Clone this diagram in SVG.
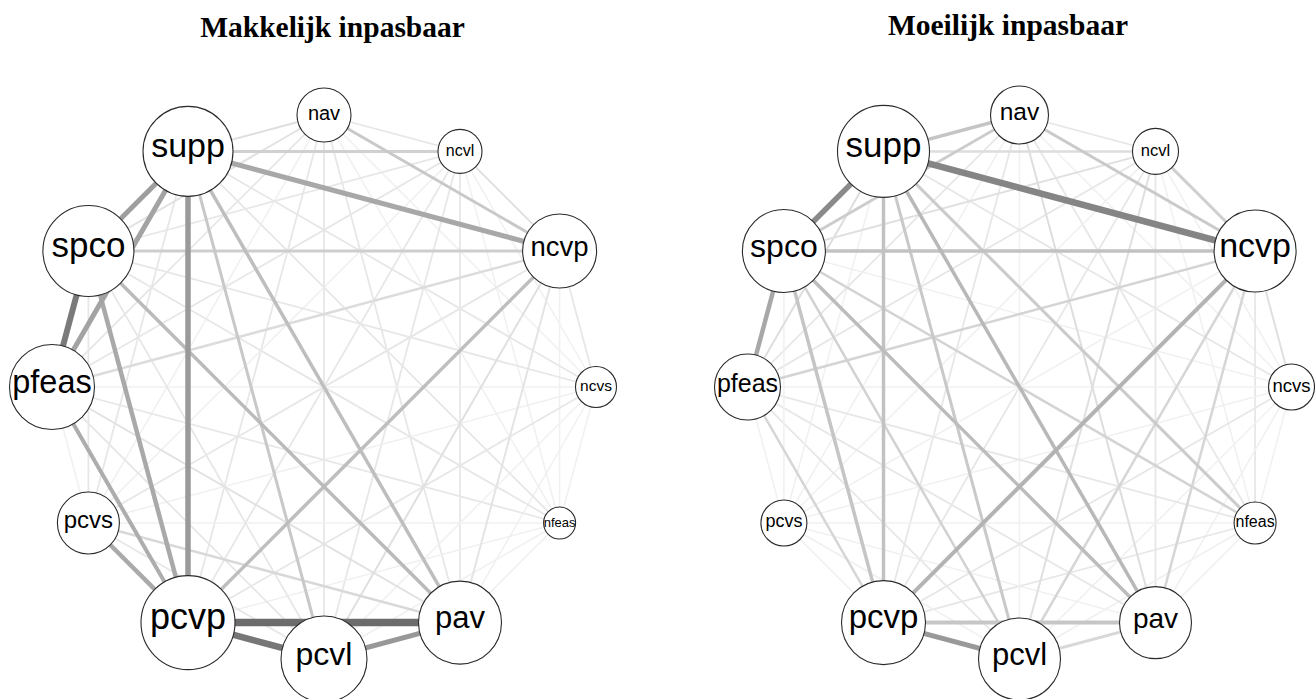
<svg xmlns="http://www.w3.org/2000/svg" width="1315" height="699" viewBox="0 0 1315 699">
<style>
.title{font-family:"Liberation Serif","Times New Roman",serif;font-weight:bold;font-size:29.5px;text-anchor:middle;fill:#000}
.n{fill:#fff;stroke:#2a2a2a;stroke-width:1.1}
.lb{font-family:"Liberation Sans",Arial,sans-serif;text-anchor:middle;fill:#000}
.f{stroke:#f0f0f0;stroke-width:1.5}
.m{stroke:#e7e7e7;stroke-width:1.8}
line{fill:none}
</style>
<rect width="1315" height="699" fill="#fff"/>
<text class="title" x="332.5" y="36.7">Makkelijk inpasbaar</text>
<text class="title" x="1008" y="34.7">Moeilijk inpasbaar</text>

<g id="connectors-left">
<line class="m" x1="324" y1="115" x2="460" y2="151.4"/>
<line class="f" x1="324" y1="115" x2="596" y2="387"/>
<line class="f" x1="324" y1="115" x2="559.6" y2="523"/>
<line class="m" x1="324" y1="115" x2="460" y2="622.6"/>
<line class="m" x1="324" y1="115" x2="324" y2="659"/>
<line class="m" x1="324" y1="115" x2="188" y2="622.6"/>
<line class="f" x1="324" y1="115" x2="88.4" y2="523"/>
<line class="m" x1="324" y1="115" x2="52" y2="387"/>
<line class="f" x1="460" y1="151.4" x2="596" y2="387"/>
<line class="f" x1="460" y1="151.4" x2="559.6" y2="523"/>
<line class="m" x1="460" y1="151.4" x2="460" y2="622.6"/>
<line class="m" x1="460" y1="151.4" x2="324" y2="659"/>
<line class="m" x1="460" y1="151.4" x2="188" y2="622.6"/>
<line class="f" x1="460" y1="151.4" x2="88.4" y2="523"/>
<line class="m" x1="460" y1="151.4" x2="52" y2="387"/>
<line class="m" x1="460" y1="151.4" x2="88.4" y2="251"/>
<line class="m" x1="559.6" y1="251" x2="596" y2="387"/>
<line class="f" x1="559.6" y1="251" x2="559.6" y2="523"/>
<line class="m" x1="559.6" y1="251" x2="88.4" y2="523"/>
<line class="f" x1="596" y1="387" x2="559.6" y2="523"/>
<line class="f" x1="596" y1="387" x2="460" y2="622.6"/>
<line class="f" x1="596" y1="387" x2="324" y2="659"/>
<line class="m" x1="596" y1="387" x2="188" y2="622.6"/>
<line class="f" x1="596" y1="387" x2="88.4" y2="523"/>
<line class="f" x1="596" y1="387" x2="52" y2="387"/>
<line class="m" x1="596" y1="387" x2="88.4" y2="251"/>
<line class="m" x1="596" y1="387" x2="188" y2="151.4"/>
<line class="f" x1="559.6" y1="523" x2="460" y2="622.6"/>
<line class="f" x1="559.6" y1="523" x2="324" y2="659"/>
<line class="f" x1="559.6" y1="523" x2="188" y2="622.6"/>
<line class="f" x1="559.6" y1="523" x2="88.4" y2="523"/>
<line class="m" x1="559.6" y1="523" x2="52" y2="387"/>
<line class="m" x1="559.6" y1="523" x2="88.4" y2="251"/>
<line class="m" x1="559.6" y1="523" x2="188" y2="151.4"/>
<line class="m" x1="324" y1="659" x2="88.4" y2="523"/>
<line class="m" x1="324" y1="659" x2="52" y2="387"/>
<line class="m" x1="324" y1="659" x2="88.4" y2="251"/>
<line class="f" x1="88.4" y1="523" x2="52" y2="387"/>
<line class="m" x1="88.4" y1="523" x2="88.4" y2="251"/>
<line class="m" x1="88.4" y1="523" x2="188" y2="151.4"/>
<line x1="52" y1="387" x2="460" y2="622.6" stroke="#e2e2e2" stroke-width="2"/>
<line x1="559.6" y1="251" x2="460" y2="151.4" stroke="#e2e2e2" stroke-width="2"/>
<line x1="559.6" y1="251" x2="460" y2="622.6" stroke="#e4e4e4" stroke-width="2"/>
<line x1="88.4" y1="251" x2="324" y2="115" stroke="#e2e2e2" stroke-width="2"/>
<line x1="559.6" y1="251" x2="324" y2="659" stroke="#e0e0e0" stroke-width="2"/>
<line x1="188" y1="151.4" x2="324" y2="115" stroke="#dedede" stroke-width="2"/>
<line x1="88.4" y1="523" x2="460" y2="622.6" stroke="#d8d8d8" stroke-width="2.5"/>
<line x1="52" y1="387" x2="559.6" y2="251" stroke="#dcdcdc" stroke-width="2.5"/>
<line x1="188" y1="151.4" x2="460" y2="151.4" stroke="#d0d0d0" stroke-width="3"/>
<line x1="88.4" y1="251" x2="559.6" y2="251" stroke="#cecece" stroke-width="3"/>
<line x1="324" y1="115" x2="559.6" y2="251" stroke="#c8c8c8" stroke-width="3"/>
<line x1="188" y1="151.4" x2="324" y2="659" stroke="#c8c8c8" stroke-width="3"/>
<line x1="188" y1="622.6" x2="559.6" y2="251" stroke="#bebebe" stroke-width="3.5"/>
<line x1="188" y1="151.4" x2="460" y2="622.6" stroke="#bebebe" stroke-width="3.5"/>
<line x1="88.4" y1="251" x2="460" y2="622.6" stroke="#bababa" stroke-width="3.5"/>
<line x1="52" y1="387" x2="188" y2="622.6" stroke="#adadad" stroke-width="4"/>
<line x1="88.4" y1="523" x2="188" y2="622.6" stroke="#aaaaaa" stroke-width="4.5"/>
<line x1="88.4" y1="251" x2="188" y2="622.6" stroke="#a9a9a9" stroke-width="4.5"/>
<line x1="188" y1="151.4" x2="559.6" y2="251" stroke="#a8a8a8" stroke-width="5"/>
<line x1="188" y1="151.4" x2="52" y2="387" stroke="#a3a3a3" stroke-width="5"/>
<line x1="188" y1="151.4" x2="88.4" y2="251" stroke="#9e9e9e" stroke-width="5"/>
<line x1="188" y1="151.4" x2="188" y2="622.6" stroke="#9a9a9a" stroke-width="5.5"/>
<line x1="324" y1="659" x2="460" y2="622.6" stroke="#989898" stroke-width="5"/>
<line x1="88.4" y1="251" x2="52" y2="387" stroke="#7a7a7a" stroke-width="6"/>
<line x1="188" y1="622.6" x2="324" y2="659" stroke="#777777" stroke-width="6.5"/>
<line x1="188" y1="622.6" x2="460" y2="622.6" stroke="#6c6c6c" stroke-width="7.5"/>
</g>

<g id="connectors-right">
<line class="m" x1="1019.5" y1="115" x2="1155.5" y2="151.4"/>
<line class="f" x1="1019.5" y1="115" x2="1291.5" y2="387"/>
<line class="m" x1="1019.5" y1="115" x2="1255.1" y2="523"/>
<line class="f" x1="1019.5" y1="115" x2="1019.5" y2="659"/>
<line class="m" x1="1019.5" y1="115" x2="883.5" y2="622.6"/>
<line class="f" x1="1019.5" y1="115" x2="783.9" y2="523"/>
<line class="m" x1="1019.5" y1="115" x2="747.5" y2="387"/>
<line class="f" x1="1155.5" y1="151.4" x2="1291.5" y2="387"/>
<line class="f" x1="1155.5" y1="151.4" x2="1255.1" y2="523"/>
<line class="m" x1="1155.5" y1="151.4" x2="1155.5" y2="622.6"/>
<line class="m" x1="1155.5" y1="151.4" x2="883.5" y2="622.6"/>
<line class="f" x1="1155.5" y1="151.4" x2="783.9" y2="523"/>
<line class="m" x1="1155.5" y1="151.4" x2="747.5" y2="387"/>
<line class="m" x1="1255.1" y1="251" x2="1255.1" y2="523"/>
<line class="f" x1="1255.1" y1="251" x2="783.9" y2="523"/>
<line class="f" x1="1291.5" y1="387" x2="1255.1" y2="523"/>
<line class="f" x1="1291.5" y1="387" x2="1155.5" y2="622.6"/>
<line class="f" x1="1291.5" y1="387" x2="1019.5" y2="659"/>
<line class="m" x1="1291.5" y1="387" x2="883.5" y2="622.6"/>
<line class="f" x1="1291.5" y1="387" x2="783.9" y2="523"/>
<line class="f" x1="1291.5" y1="387" x2="747.5" y2="387"/>
<line class="f" x1="1291.5" y1="387" x2="783.9" y2="251"/>
<line class="m" x1="1291.5" y1="387" x2="883.5" y2="151.4"/>
<line class="f" x1="1255.1" y1="523" x2="1155.5" y2="622.6"/>
<line class="f" x1="1255.1" y1="523" x2="1019.5" y2="659"/>
<line class="m" x1="1255.1" y1="523" x2="883.5" y2="622.6"/>
<line class="f" x1="1255.1" y1="523" x2="783.9" y2="523"/>
<line class="m" x1="1255.1" y1="523" x2="747.5" y2="387"/>
<line class="f" x1="1155.5" y1="622.6" x2="783.9" y2="523"/>
<line class="m" x1="1155.5" y1="622.6" x2="747.5" y2="387"/>
<line class="f" x1="1019.5" y1="659" x2="783.9" y2="523"/>
<line class="m" x1="1019.5" y1="659" x2="747.5" y2="387"/>
<line class="f" x1="883.5" y1="622.6" x2="783.9" y2="523"/>
<line class="f" x1="783.9" y1="523" x2="747.5" y2="387"/>
<line class="f" x1="783.9" y1="523" x2="783.9" y2="251"/>
<line class="f" x1="783.9" y1="523" x2="883.5" y2="151.4"/>
<line x1="1255.1" y1="251" x2="1291.5" y2="387" stroke="#e0e0e0" stroke-width="2"/>
<line x1="883.5" y1="151.4" x2="747.5" y2="387" stroke="#dedede" stroke-width="2"/>
<line x1="1019.5" y1="659" x2="1155.5" y2="151.4" stroke="#e0e0e0" stroke-width="2"/>
<line x1="1019.5" y1="115" x2="1155.5" y2="622.6" stroke="#dedede" stroke-width="2"/>
<line x1="783.9" y1="251" x2="1155.5" y2="151.4" stroke="#e0e0e0" stroke-width="2"/>
<line x1="883.5" y1="151.4" x2="1155.5" y2="151.4" stroke="#dddddd" stroke-width="2.5"/>
<line x1="1019.5" y1="659" x2="1155.5" y2="622.6" stroke="#d8d8d8" stroke-width="3"/>
<line x1="1155.5" y1="622.6" x2="1255.1" y2="251" stroke="#d6d6d6" stroke-width="2.5"/>
<line x1="1019.5" y1="659" x2="1255.1" y2="251" stroke="#d6d6d6" stroke-width="2.5"/>
<line x1="747.5" y1="387" x2="883.5" y2="622.6" stroke="#d6d6d6" stroke-width="2.5"/>
<line x1="747.5" y1="387" x2="1255.1" y2="251" stroke="#d4d4d4" stroke-width="2.5"/>
<line x1="783.9" y1="251" x2="1255.1" y2="523" stroke="#d3d3d3" stroke-width="2.5"/>
<line x1="783.9" y1="251" x2="1019.5" y2="659" stroke="#d2d2d2" stroke-width="2.5"/>
<line x1="1155.5" y1="151.4" x2="1255.1" y2="251" stroke="#cfcfcf" stroke-width="3"/>
<line x1="883.5" y1="151.4" x2="1255.1" y2="523" stroke="#cbcbcb" stroke-width="3"/>
<line x1="783.9" y1="251" x2="1019.5" y2="115" stroke="#cccccc" stroke-width="3"/>
<line x1="1019.5" y1="115" x2="1255.1" y2="251" stroke="#cacaca" stroke-width="3"/>
<line x1="883.5" y1="151.4" x2="1019.5" y2="659" stroke="#c9c9c9" stroke-width="3"/>
<line x1="883.5" y1="151.4" x2="1019.5" y2="115" stroke="#c5c5c5" stroke-width="3.5"/>
<line x1="783.9" y1="251" x2="883.5" y2="622.6" stroke="#c5c5c5" stroke-width="3.5"/>
<line x1="883.5" y1="622.6" x2="1155.5" y2="622.6" stroke="#c6c6c6" stroke-width="4"/>
<line x1="783.9" y1="251" x2="1255.1" y2="251" stroke="#c2c2c2" stroke-width="3.5"/>
<line x1="883.5" y1="151.4" x2="883.5" y2="622.6" stroke="#c2c2c2" stroke-width="3.5"/>
<line x1="783.9" y1="251" x2="1155.5" y2="622.6" stroke="#bcbcbc" stroke-width="3.5"/>
<line x1="883.5" y1="151.4" x2="1155.5" y2="622.6" stroke="#b8b8b8" stroke-width="3.5"/>
<line x1="883.5" y1="622.6" x2="1255.1" y2="251" stroke="#b3b3b3" stroke-width="4"/>
<line x1="783.9" y1="251" x2="747.5" y2="387" stroke="#a8a8a8" stroke-width="4.5"/>
<line x1="883.5" y1="622.6" x2="1019.5" y2="659" stroke="#999999" stroke-width="5"/>
<line x1="883.5" y1="151.4" x2="783.9" y2="251" stroke="#8a8a8a" stroke-width="5.5"/>
<line x1="883.5" y1="151.4" x2="1255.1" y2="251" stroke="#858585" stroke-width="6.5"/>
</g>

<g id="left-nav"><circle class="n" cx="324" cy="115" r="27"/><text class="lb" x="324" y="119.6" font-size="20">nav</text></g>
<g id="left-ncvl"><circle class="n" cx="460" cy="151.4" r="22"/><text class="lb" x="460" y="155.7" font-size="16">ncvl</text></g>
<g id="left-ncvp"><circle class="n" cx="559.6" cy="251" r="37"/><text class="lb" x="559.6" y="256.2" font-size="27.5">ncvp</text></g>
<g id="left-ncvs"><circle class="n" cx="596" cy="387" r="20.5"/><text class="lb" x="596" y="391.2" font-size="15.5">ncvs</text></g>
<g id="left-nfeas"><circle class="n" cx="559.6" cy="523" r="16"/><text class="lb" x="559.6" y="527" font-size="13">nfeas</text></g>
<g id="left-pav"><circle class="n" cx="460" cy="622.6" r="41.5"/><text class="lb" x="460" y="628.1" font-size="31">pav</text></g>
<g id="left-pcvl"><circle class="n" cx="324" cy="659" r="43"/><text class="lb" x="324" y="664.6" font-size="32">pcvl</text></g>
<g id="left-pcvp"><circle class="n" cx="188" cy="622.6" r="47"/><text class="lb" x="188" y="628.5" font-size="36">pcvp</text></g>
<g id="left-pcvs"><circle class="n" cx="88.4" cy="523" r="31"/><text class="lb" x="88.4" y="527.9" font-size="24">pcvs</text></g>
<g id="left-pfeas"><circle class="n" cx="52" cy="387" r="42.5"/><text class="lb" x="52" y="392.6" font-size="32.5">pfeas</text></g>
<g id="left-spco"><circle class="n" cx="88.4" cy="251" r="45.5"/><text class="lb" x="88.4" y="256.8" font-size="35">spco</text></g>
<g id="left-supp"><circle class="n" cx="188" cy="151.4" r="45"/><text class="lb" x="188" y="157.1" font-size="34">supp</text></g>

<g id="right-nav"><circle class="n" cx="1019.5" cy="115" r="29"/><text class="lb" x="1019.5" y="120" font-size="24.5">nav</text></g>
<g id="right-ncvl"><circle class="n" cx="1155.5" cy="151.4" r="23"/><text class="lb" x="1155.5" y="155.7" font-size="16.5">ncvl</text></g>
<g id="right-ncvp"><circle class="n" cx="1255.1" cy="251" r="41"/><text class="lb" x="1255.1" y="256.7" font-size="34">ncvp</text></g>
<g id="right-ncvs"><circle class="n" cx="1291.5" cy="387" r="23"/><text class="lb" x="1291.5" y="391.5" font-size="18.5">ncvs</text></g>
<g id="right-nfeas"><circle class="n" cx="1255.1" cy="523" r="21"/><text class="lb" x="1255.1" y="527.3" font-size="16">nfeas</text></g>
<g id="right-pav"><circle class="n" cx="1155.5" cy="622.6" r="36"/><text class="lb" x="1155.5" y="627.8" font-size="28">pav</text></g>
<g id="right-pcvl"><circle class="n" cx="1019.5" cy="659" r="41"/><text class="lb" x="1019.5" y="664.5" font-size="31">pcvl</text></g>
<g id="right-pcvp"><circle class="n" cx="883.5" cy="622.6" r="42"/><text class="lb" x="883.5" y="628.2" font-size="33">pcvp</text></g>
<g id="right-pcvs"><circle class="n" cx="783.9" cy="523" r="23"/><text class="lb" x="783.9" y="527.4" font-size="18">pcvs</text></g>
<g id="right-pfeas"><circle class="n" cx="747.5" cy="387" r="33"/><text class="lb" x="747.5" y="392" font-size="25">pfeas</text></g>
<g id="right-spco"><circle class="n" cx="783.9" cy="251" r="41.5"/><text class="lb" x="783.9" y="256.6" font-size="32">spco</text></g>
<g id="right-supp"><circle class="n" cx="883.5" cy="151.4" r="46"/><text class="lb" x="883.5" y="157.2" font-size="35">supp</text></g>
</svg>
